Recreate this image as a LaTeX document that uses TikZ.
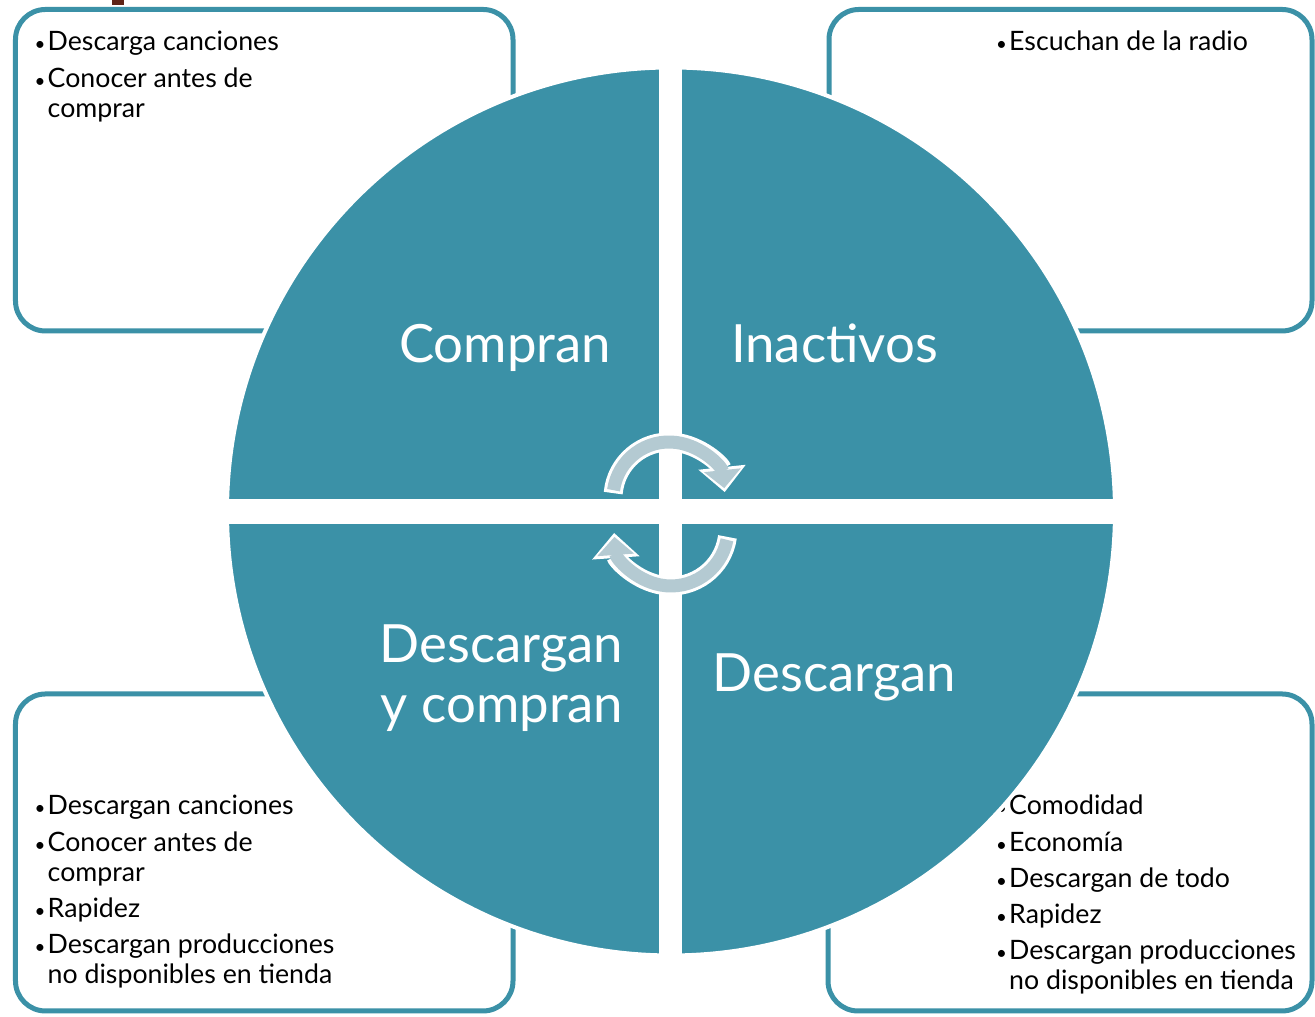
\documentclass[tikz,border=0pt]{standalone}
\usepackage{fontspec}
\setmainfont{Lato}
\usepackage[]{xcolor}
\usepackage{graphicx}
\usetikzlibrary{arrows.meta}

\definecolor{segteal}{RGB}{59,145,167}
\definecolor{arrowgray}{RGB}{180,202,210}
\definecolor{markbrown}{RGB}{95,35,22}

\newcommand{\dotitem}{\makebox[3pt][l]{\hspace{-0.7pt}\scalebox{0.7}{\textbullet}}}

\begin{document}
\begin{tikzpicture}[
    infobox/.style={draw=segteal, line width=0.05cm, rounded corners=0.3cm},
    itemlist/.style={anchor=base west, inner sep=0pt, font=\fontsize{7.6}{8.5}\selectfont},
    seglabel/.style={text=white, inner sep=0pt, font=\fontsize{15}{16.8}\selectfont},
    cyclearrow/.style={arrowgray, line width=0.13cm, -{Triangle[length=0.18cm, width=0.36cm]}, shorten >=0.04cm},
    cycleedge/.style={white, line width=0.19cm, -{Triangle[length=0.25cm, width=0.46cm]}},
  ]
        \fill[white] (0, 0) rectangle (13.15, 10.17);
        \useasboundingbox (0, 0) rectangle (13.15, 10.17);
        \fill[markbrown] (1.12, 10.12) rectangle (1.24, 10.17);

        % the four boxes
        \draw[infobox] (0.155, 10.075) rectangle (5.13, 6.86);
        \draw[infobox] (8.29, 10.075) rectangle (13.12, 6.86);
        \draw[infobox] (0.155, 3.23) rectangle (5.13, 0.06);
        \draw[infobox] (8.28, 3.23) rectangle (13.12, 0.06);

        \node[itemlist] (buyList) at (0.365, 9.66) {\begin{tabular}[t]{@{}l@{}l@{}}
            \dotitem & Descarga canciones\\[1.8pt]
            \dotitem & Conocer antes de\\
                     & comprar
          \end{tabular}};
        \node[itemlist] (idleList) at (9.98, 9.66) {\begin{tabular}[t]{@{}l@{}l@{}}
            \dotitem & Escuchan de la radio
          \end{tabular}};
        \node[itemlist] (bothList) at (0.365, 2.02) {\begin{tabular}[t]{@{}l@{}l@{}}
            \dotitem & Descargan canciones\\[1.8pt]
            \dotitem & Conocer antes de\\
                     & comprar\\[1.8pt]
            \dotitem & Rapidez\\[1.8pt]
            \dotitem & Descargan producciones\\
                     & no disponibles en tienda
          \end{tabular}};
        \node[itemlist] (dlList) at (9.98, 2.02) {\begin{tabular}[t]{@{}l@{}l@{}}
            \dotitem & Comodidad\\[1.8pt]
            \dotitem & Economía\\[1.8pt]
            \dotitem & Descargan de todo\\[1.8pt]
            \dotitem & Rapidez\\[1.8pt]
            \dotitem & Descargan producciones\\
                     & no disponibles en tienda
          \end{tabular}};

        % circle cut in four
        \draw[fill=segteal, draw=white, line width=0.04cm] (6.71, 5.055) circle (4.44);
        \draw[white, line width=0.23cm] (6.705, 0.4) -- (6.705, 9.7);
        \draw[white, line width=0.25cm] (2.1, 5.055) -- (11.3, 5.055);

        \node[seglabel, anchor=base] (buyLabel) at (5.05, 6.54) {Compran};
        \node[seglabel, anchor=base] (idleLabel) at (8.345, 6.54) {Inactivos};
        \node[seglabel, anchor=base east] (bothLabel) at (6.24, 3.54) {\begin{tabular}[t]{@{}r@{}}Descargan\\y compran\end{tabular}};
        \node[seglabel, anchor=base] (dlLabel) at (8.345, 3.25) {Descargan};

        \draw[cycleedge] (6.69, 5.19) ++(175:0.56) arc[start angle=175, end angle=6, radius=0.56];
        \draw[cyclearrow] (6.69, 5.19) ++(172:0.56) arc[start angle=172, end angle=6, radius=0.56];
        \draw[cycleedge] (6.71, 4.88) ++(-8:0.57) arc[start angle=-8, end angle=-176, radius=0.57];
        \draw[cyclearrow] (6.71, 4.88) ++(-11:0.57) arc[start angle=-11, end angle=-176, radius=0.57];
      \end{tikzpicture}
\end{document}
